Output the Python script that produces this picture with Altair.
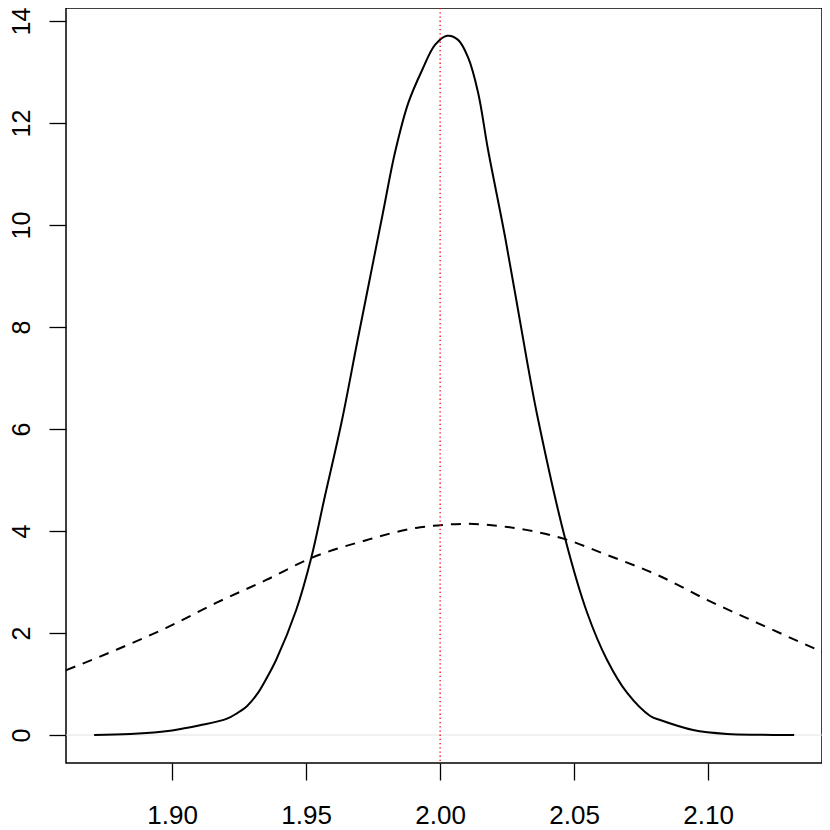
import altair as alt
import pandas as pd

# Solid curve (kernel density estimate)
solid_x = [1.8709, 1.8843, 1.9000, 1.9104, 1.9205, 1.9243, 1.9280, 1.9317, 1.9351,
           1.9388, 1.9463, 1.9519, 1.9567, 1.9634, 1.9690, 1.9739, 1.9787, 1.9832,
           1.9881, 1.9933, 1.9981, 2.0026, 2.0067, 2.0104, 2.0142, 2.0179, 2.0243,
           2.0325, 2.0366, 2.0466, 2.0549, 2.0623, 2.0698, 2.0784, 2.0821, 2.0944,
           2.1071, 2.1194, 2.1321]
solid_y = [0.000, 0.020, 0.090, 0.190, 0.320, 0.430, 0.570, 0.800, 1.100,
           1.471, 2.451, 3.471, 4.608, 6.176, 7.686, 8.980, 10.25, 11.43,
           12.39, 13.04, 13.53, 13.71, 13.63, 13.29, 12.59, 11.47, 9.75,
           7.31, 6.176, 3.863, 2.392, 1.471, 0.824, 0.373, 0.294, 0.098,
           0.020, 0.005, 0.000]

# Dashed curve
dashed_x = [1.8604, 1.8791, 1.8978, 1.9164, 1.9351, 1.9519, 1.9724, 1.9910, 2.0011,
            2.0101, 2.0250, 2.0466, 2.0623, 2.0810, 2.0996, 2.1183, 2.1425]
dashed_y = [1.27, 1.67, 2.10, 2.59, 3.04, 3.47, 3.82, 4.06, 4.12,
            4.14, 4.08, 3.84, 3.53, 3.14, 2.65, 2.20, 1.63]

x_ticks = [1.90, 1.95, 2.00, 2.05, 2.10]
y_ticks = [0, 2, 4, 6, 8, 10, 12, 14]
x_domain = [1.8604, 2.1425]
y_domain = [-0.549, 14.255]
ref_x = [2.00]
zero_y = [0]

solid_df = pd.DataFrame({"x": solid_x, "y": solid_y})
dashed_df = pd.DataFrame({"x": dashed_x, "y": dashed_y})

FONT = "Liberation Sans"
xscale = alt.Scale(domain=x_domain, nice=False, zero=False)
yscale = alt.Scale(domain=y_domain, nice=False, zero=False)

xaxis = alt.Axis(values=x_ticks, format=".2f", title=None, grid=False, domain=False,
                 tickSize=17, tickWidth=1.3, tickColor="black", labelFontSize=26,
                 labelFont=FONT, labelColor="black", labelPadding=22, labelFlush=False,
                 labelBaseline="top")
yaxis = alt.Axis(values=y_ticks, title=None, grid=False, domain=False,
                 tickSize=17, tickWidth=1.3, tickColor="black", labelFontSize=25,
                 labelFont=FONT, labelColor="black", labelAngle=270, labelAlign="center",
                 labelBaseline="middle", labelPadding=28, labelFlush=False)

zero_line = alt.Chart(pd.DataFrame({"y": zero_y})).mark_rule(
    color="#e3e3e3", strokeWidth=1
).encode(y=alt.Y("y:Q", scale=yscale, axis=yaxis))

solid = alt.Chart(solid_df).mark_line(
    color="black", strokeWidth=2, interpolate="catmull-rom"
).encode(
    x=alt.X("x:Q", scale=xscale, axis=xaxis),
    y=alt.Y("y:Q", scale=yscale, axis=yaxis),
    order="x:Q",
)

dashed = alt.Chart(dashed_df).mark_line(
    color="black", strokeWidth=2, strokeDash=[10, 8], interpolate="monotone"
).encode(
    x=alt.X("x:Q", scale=xscale),
    y=alt.Y("y:Q", scale=yscale),
    order="x:Q",
)

vline = alt.Chart(pd.DataFrame({"x": ref_x})).mark_rule(
    color="#ff0000", strokeWidth=1.3, strokeDash=[1.3, 2.9]
).encode(x=alt.X("x:Q", scale=xscale))

chart = alt.layer(zero_line, solid, dashed, vline).properties(
    width=756, height=755,
    autosize=alt.AutoSizeParams(type="none"),
    padding={"left": 58, "top": 0, "right": 0, "bottom": 66},
).configure_view(stroke="black", strokeWidth=1.5)

chart.save("out.html", embed_options={"renderer": "svg", "actions": False})
